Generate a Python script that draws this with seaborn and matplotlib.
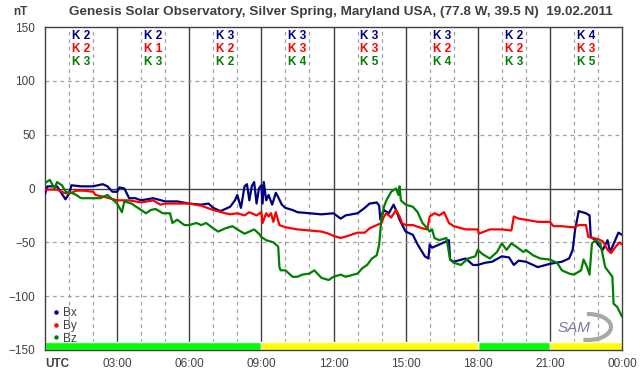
import numpy as np
import pandas as pd
import seaborn as sns
from matplotlib import pyplot as plt
from matplotlib.lines import Line2D
from matplotlib.patches import Arc

# hours UTC and field values (nT)
BX_T = [0, 0.1, 0.5, 0.85, 1.0, 1.1, 1.5, 2.0, 2.2, 2.4,
        2.6, 2.8, 3.0, 3.1, 3.3, 3.5, 3.75, 4.0, 4.5, 5.0,
        5.5, 6.0, 6.5, 6.8, 7.0, 7.3, 7.7, 7.9, 8.0, 8.15,
        8.3, 8.4, 8.5, 8.6, 8.7, 8.8, 8.9, 9.0, 9.05, 9.1,
        9.2, 9.3, 9.45, 9.6, 9.7, 9.85, 10.0, 10.3, 10.5, 11.0,
        11.5, 12.0, 12.3, 12.5, 13.0, 13.3, 13.5, 13.8, 13.9, 13.95,
        14.1, 14.3, 14.5, 14.6, 14.75, 15.0, 15.3, 15.5, 15.8, 15.95,
        16.0, 16.1, 16.3, 16.5, 16.8, 16.85, 17.0, 17.5, 17.8, 18.0,
        18.3, 18.6, 19.0, 19.3, 19.5, 19.7, 20.0, 20.3, 20.5, 21.0,
        21.5, 21.8, 21.95, 22.05, 22.2, 22.5, 22.65, 22.7, 22.9, 23.0,
        23.2, 23.4, 23.5, 23.7, 23.85, 24.0]
BX_V = [-5, 2, 2, -10, -5, 3, 2, 2, 3, 4,
        2, -3, -3, 1, 0, -9, -9, -11, -9, -12,
        -12, -14, -15, -14, -18, -21, -17, -11, -6, -18,
        2, 4, -11, 2, 6, -14, 0, 3, -14, 6,
        -11, -6, -15, -4, -8, -15, -18, -20, -22, -23,
        -24, -23, -28, -25, -23, -18, -14, -13, -16, -29,
        -20, -23, -15, -20, -29, -40, -43, -52, -63, -65,
        -52, -55, -53, -51, -48, -66, -68, -65, -71, -71,
        -69, -68, -63, -64, -71, -67, -68, -71, -73, -70,
        -68, -65, -57, -38, -21, -23, -25, -45, -48, -52,
        -57, -48, -59, -49, -41, -43]

BY_T = [0, 0.5, 0.8, 1.0, 1.3, 1.6, 2.0, 2.1, 2.5, 3.0,
        3.5, 4.0, 4.5, 4.8, 5.0, 6.0, 6.5, 7.0, 7.5, 7.7,
        8.0, 8.3, 8.5, 8.8, 9.0, 9.05, 9.2, 9.3, 9.4, 9.5,
        9.6, 9.75, 10.0, 10.5, 11.0, 11.5, 11.8, 12.0, 12.3, 12.6,
        13.0, 13.3, 13.5, 13.8, 14.0, 14.1, 14.2, 14.4, 14.6, 14.75,
        14.85, 15.0, 15.3, 15.7, 15.9, 16.0, 16.2, 16.4, 16.6, 16.8,
        17.0, 17.5, 18.0, 18.05, 18.5, 19.0, 19.4, 19.5, 19.7, 20.0,
        20.5, 21.0, 21.15, 21.5, 21.9, 22.0, 22.2, 22.5, 22.6, 22.8,
        23.0, 23.2, 23.4, 23.55, 23.7, 23.9, 24.0]
BY_V = [-1, -1, -4, -5, -2, -2, -3, -6, -8, -11,
        -11, -13, -11, -15, -14, -14, -16, -20, -23, -24,
        -23, -25, -22, -25, -22, -32, -23, -26, -23, -31,
        -22, -34, -36, -38, -39, -40, -42, -44, -46, -44,
        -41, -41, -37, -34, -32, -26, -23, -27, -20, -26,
        -32, -34, -34, -37, -38, -26, -23, -25, -22, -32,
        -35, -38, -38, -42, -38, -38, -39, -26, -28, -29,
        -31, -31, -35, -35, -36, -36, -34, -34, -45, -46,
        -47, -49, -57, -60, -55, -50, -52]

BZ_T = [0, 0.2, 0.4, 0.5, 0.7, 0.9, 1.0, 1.3, 1.5, 2.0,
        2.3, 2.6, 3.0, 3.2, 3.3, 3.6, 3.8, 4.0, 4.2, 4.4,
        4.6, 4.9, 5.2, 5.3, 5.5, 5.8, 6.0, 6.3, 6.5, 6.7,
        7.0, 7.2, 7.5, 7.8, 8.0, 8.3, 8.5, 8.7, 8.9, 9.0,
        9.2, 9.5, 9.7, 9.75, 9.8, 10.0, 10.3, 10.5, 10.7, 11.0,
        11.2, 11.5, 11.8, 12.0, 12.3, 12.5, 13.0, 13.2, 13.4, 13.6,
        13.8, 13.9, 14.0, 14.1, 14.2, 14.4, 14.6, 14.7, 14.75, 14.8,
        15.0, 15.3, 15.5, 15.7, 15.9, 16.0, 16.1, 16.2, 16.4, 16.7,
        16.85, 17.0, 17.3, 17.6, 17.9, 18.0, 18.2, 18.5, 18.8, 19.0,
        19.2, 19.4, 19.6, 19.9, 20.0, 20.3, 20.6, 21.0, 21.3, 21.5,
        21.8, 22.0, 22.3, 22.4, 22.55, 22.65, 22.75, 22.9, 23.1, 23.3,
        23.5, 23.6, 23.65, 23.8, 24.0]
BZ_V = [5, 8, 0, 6, 3, -4, -3, -6, -9, -9,
        -9, -6, -14, -22, -12, -14, -17, -20, -23, -20,
        -19, -23, -23, -32, -29, -34, -34, -32, -34, -32,
        -37, -40, -37, -35, -38, -42, -40, -38, -42, -45,
        -48, -50, -54, -73, -76, -76, -82, -82, -80, -79,
        -76, -83, -85, -82, -80, -82, -79, -74, -71, -65,
        -62, -52, -26, -17, -11, -3, 0, -6, 2, -11,
        -15, -17, -22, -32, -37, -40, -38, -46, -48, -46,
        -66, -69, -71, -65, -63, -57, -61, -65, -59, -51,
        -57, -51, -54, -59, -57, -62, -65, -66, -69, -76,
        -79, -80, -76, -66, -73, -80, -51, -48, -51, -73,
        -79, -82, -107, -110, -119]

# K indices per 3-hour interval
K_X = ["2", "2", "3", "3", "3", "3", "2", "4"]
K_Y = ["2", "1", "2", "3", "3", "2", "2", "3"]
K_Z = ["3", "3", "2", "4", "5", "4", "3", "5"]

# status bar at the bottom: (start hour, length)
BAR_GREEN = [(0, 9), (18, 3)]
BAR_YELLOW = [(9, 9), (21, 3)]

TICK_LABELS = ["UTC", "03:00", "06:00", "09:00", "12:00", "15:00", "18:00", "21:00", "00:00"]

COLORS = {"Bx": "#000080", "By": "#ff0000", "Bz": "#008000"}
TEXT = "#404040"


def main():
    df = pd.concat([
        pd.DataFrame({"hour": BX_T, "nT": BX_V, "comp": "Bx"}),
        pd.DataFrame({"hour": BY_T, "nT": BY_V, "comp": "By"}),
        pd.DataFrame({"hour": BZ_T, "nT": BZ_V, "comp": "Bz"}),
    ], ignore_index=True)

    sns.set_style("white")
    plt.rcParams["font.family"] = ["Liberation Sans", "DejaVu Sans"]

    fig = plt.figure(figsize=(6.42, 3.76), dpi=100)
    ax = fig.add_axes([45 / 642, 26 / 376, 577 / 642, 323 / 376])

    # grid: dashed every hour / 50 nT, solid every 3 h and at 0
    for h in range(1, 24):
        if h % 3 == 0:
            ax.axvline(h, color=TEXT, lw=1, zorder=1)
        else:
            ax.axvline(h, color="#a0a0a0", lw=0.9, ls=(0, (3, 3)), zorder=1)
    for y in (-100, -50, 50, 100):
        ax.axhline(y, color="#a0a0a0", lw=0.9, ls=(0, (3, 3)), zorder=1)
    ax.axhline(0, color=TEXT, lw=1, zorder=1)

    sns.lineplot(data=df, x="hour", y="nT", hue="comp", palette=COLORS,
                 estimator=None, sort=True, lw=1.6, legend=False, ax=ax, zorder=3)

    ax.broken_barh(BAR_GREEN, (-150, 7.5), facecolors="#00ff00", zorder=2)
    ax.broken_barh(BAR_YELLOW, (-150, 7.5), facecolors="#ffff00", zorder=2)

    ax.set_xlim(0, 24)
    ax.set_ylim(-150, 150)
    ax.set_xticks(range(0, 25, 3))
    ax.set_xticklabels(TICK_LABELS)
    ax.set_xticks(range(0, 25), minor=True)
    ax.set_yticks(range(-150, 151, 50))
    ax.tick_params(axis="both", which="both", direction="out", length=4,
                   width=1, color=TEXT, labelcolor=TEXT, labelsize=8.5, pad=3)
    ax.tick_params(axis="x", which="major", pad=2)
    first = ax.get_xticklabels()[0]
    first.set_fontweight("bold")
    first.set_horizontalalignment("left")
    ax.set_xlabel("")
    ax.set_ylabel("")
    for s in ax.spines.values():
        s.set_color(TEXT)
        s.set_linewidth(1)

    # K indices
    for i in range(8):
        xc = 3 * i + 1.5
        ax.text(xc, 141.5, f"K {K_X[i]}", color=COLORS["Bx"], ha="center", va="center",
                fontsize=8.5, fontweight="bold")
        ax.text(xc, 129.5, f"K {K_Y[i]}", color=COLORS["By"], ha="center", va="center",
                fontsize=8.5, fontweight="bold")
        ax.text(xc, 117.5, f"K {K_Z[i]}", color=COLORS["Bz"], ha="center", va="center",
                fontsize=8.5, fontweight="bold")

    # legend
    handles = [Line2D([0], [0], marker="o", ls="", ms=2.2, color=c) for c in COLORS.values()]
    leg = ax.legend(handles, list(COLORS.keys()), loc="lower left",
                    bbox_to_anchor=(0.0, -0.005), frameon=False, fontsize=8.5,
                    handlelength=0.6, handletextpad=0.3, labelspacing=0.05,
                    borderaxespad=0.2)
    for t in leg.get_texts():
        t.set_color(TEXT)

    # SAM logo (swoosh drawn in inches so the arc angles are not stretched)
    fig.add_artist(Arc((5.88, 0.49), 0.46, 0.26, theta1=-110, theta2=95,
                       ec="#a8a8a8", lw=3, transform=fig.dpi_scale_trans, zorder=2))
    ax.text(22.0, -130, "SAM", color="#7a7a9a", fontsize=11, style="italic",
            ha="center", va="center", zorder=2)

    fig.text(20 / 642, 1 - 12 / 376, "nT", color=TEXT, fontsize=8.5,
             fontweight="bold", ha="center", va="center")
    fig.text(341 / 642, 1 - 12 / 376,
             "Genesis Solar Observatory, Silver Spring, Maryland USA, (77.8 W, 39.5 N)  19.02.2011",
             color=TEXT, fontsize=9.7, fontweight="bold", ha="center", va="center")

    fig.savefig("out.png", dpi=100)


if __name__ == "__main__":
    main()
